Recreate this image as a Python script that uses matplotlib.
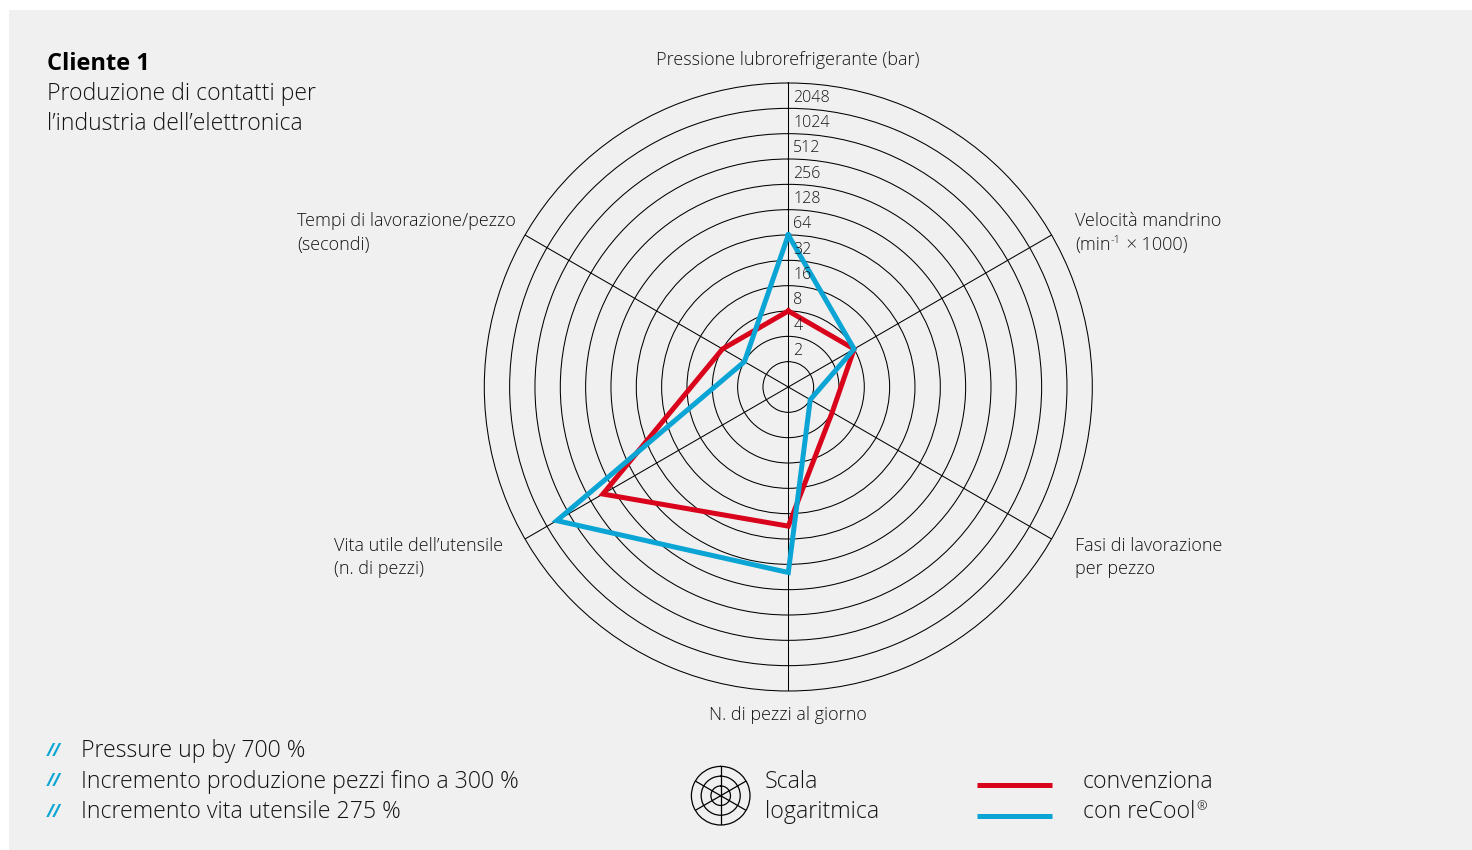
import numpy as np
import matplotlib.pyplot as plt
import matplotlib.transforms as mtransforms
from matplotlib.lines import Line2D
from matplotlib.patches import Rectangle
from matplotlib.ticker import NullLocator

plt.rcParams['font.family'] = ['Open Sans', 'DejaVu Sans']
plt.rcParams['font.weight'] = 'light'

W, H = 1472, 850
TXT = "#141414"
RED = "#d9041c"
BLUE = "#0aa5d5"

# axes of the radar, clockwise from the top
axis_names = ["Pressione lubrorefrigerante (bar)",
              "Velocità mandrino",
              "Fasi di lavorazione\nper pezzo",
              "N. di pezzi al giorno",
              "Vita utile dell’utensile\n(n. di pezzi)",
              "Tempi di lavorazione/pezzo\n(secondi)"]
speed_unit = ["(min", "-1", " × 1000)"]
axis_angles = [0, 60, 120, 180, 240, 300]

# values (log2 scale)
conventional = [8, 8, 4, 45, 350, 8]
recool = [64, 8, 2, 160, 1500, 4]

ring_values = [2, 4, 8, 16, 32, 64, 128, 256, 512, 1024, 2048]
r_max = 4096

bullets = ["Pressure up by 700 %",
           "Incremento produzione pezzi fino a 300 %",
           "Incremento vita utensile 275 %"]
legend_names = ["convenziona", "con reCool"]

LBL = 13
BIG = 16.7


def fx(x):
    return x / W


def fy(y):
    return 1 - y / H


def lines(x, y, s, ha="left", size=LBL, step=23.5):
    for i, part in enumerate(s.split("\n")):
        fig.text(fx(x), fy(y + i * step), part, ha=ha, va="baseline", fontsize=size, color=TXT)


fig = plt.figure(figsize=(W / 100, H / 100), dpi=100)
fig.patch.set_facecolor("white")
fig.patches.append(Rectangle((fx(9), 0), 1 - fx(9), fy(10), transform=fig.transFigure,
                             facecolor="#f0f0f0", edgecolor="none", zorder=-10))
renderer = fig.canvas.get_renderer()

# main radar
cx, cy, R = 788.3, 387.0, 304.0
ax = fig.add_axes([fx(cx - R), fy(cy + R), 2 * R / W, 2 * R / H], projection="polar")
ax.patch.set_alpha(0)
ax.set_theta_zero_location("N")
ax.set_theta_direction(-1)
ax.set_rscale("log", base=2)
ax.set_rlim(1, r_max)
ax.set_yticks(ring_values)
ax.set_yticklabels([])
ax.yaxis.set_minor_locator(NullLocator())
ax.set_xticks(np.deg2rad(axis_angles))
ax.set_xticklabels([])
ax.tick_params(length=0)
ax.grid(True, color="black", lw=0.75)
ax.spines["polar"].set_color("black")
ax.spines["polar"].set_linewidth(0.75)

theta = np.deg2rad(axis_angles + axis_angles[:1])
ax.plot(theta, conventional + conventional[:1], color=RED, lw=3.6, solid_joinstyle="miter", zorder=3)
ax.plot(theta, recool + recool[:1], color=BLUE, lw=3.6, solid_joinstyle="miter", zorder=4)

off = mtransforms.offset_copy(ax.transData, fig=fig, x=5, y=-2, units="dots")
for v in ring_values:
    ax.text(0, v * np.sqrt(2), str(v), transform=off, ha="left", va="center",
            fontsize=11.5, color=TXT, zorder=5)

# axis names
lines(788, 65, axis_names[0], ha="center")
lines(1075, 226.5, axis_names[1])
x = 1075
for part, dy, fs in zip(speed_unit, [0, -7, 0], [LBL, 8, LBL]):
    t = fig.text(fx(x), fy(250 + dy), part, va="baseline", fontsize=fs, color=TXT)
    x = t.get_window_extent(renderer).x1 + (1 if fs < LBL else 0)
lines(1075, 551, axis_names[2])
lines(788, 720, axis_names[3], ha="center")
lines(334, 551, axis_names[4])
lines(297, 226.5, axis_names[5])

# title
fig.text(fx(47), fy(70), "Cliente 1", fontsize=17, fontweight="bold", color="black", va="baseline")
lines(47, 100, "Produzione di contatti per\nl’industria dell’elettronica", size=16.6, step=30)

# bullet notes
for i, b in enumerate(bullets):
    y = 757 + i * 30.5
    fig.text(fx(47), fy(y - 1), "//", fontsize=12, color=BLUE, style="italic",
             fontweight="bold", va="baseline")
    fig.text(fx(81), fy(y), b, fontsize=BIG, color=TXT, va="baseline")

# log scale icon
ir = 29.3
icx, icy = 720.7, 795.7
iax = fig.add_axes([fx(icx - ir), fy(icy + ir), 2 * ir / W, 2 * ir / H], projection="polar")
iax.patch.set_alpha(0)
iax.set_theta_zero_location("N")
iax.set_theta_direction(-1)
iax.set_rlim(0, 3)
iax.set_yticks([1, 2])
iax.set_yticklabels([])
iax.set_xticks(np.deg2rad(axis_angles))
iax.set_xticklabels([])
iax.tick_params(length=0)
iax.grid(True, color="black", lw=0.9)
iax.spines["polar"].set_color("black")
iax.spines["polar"].set_linewidth(0.9)

lines(765, 788, "Scala\nlogaritmica", size=BIG, step=30.5)

# series legend
for y, c, name, ty in [(785, RED, legend_names[0], 788), (816, BLUE, legend_names[1], 818.5)]:
    fig.add_artist(Line2D([fx(977), fx(1052)], [fy(y), fy(y)], color=c, lw=3.6,
                          solid_capstyle="butt", transform=fig.transFigure))
    t = fig.text(fx(1083), fy(ty), name, fontsize=BIG, color=TXT, va="baseline")
    if c == BLUE:
        bb = t.get_window_extent(renderer)
        fig.text(fx(bb.x1 + 1), fy(ty - 8), "®", fontsize=9, color=TXT, va="baseline")

fig.savefig("out.png", dpi=100)
